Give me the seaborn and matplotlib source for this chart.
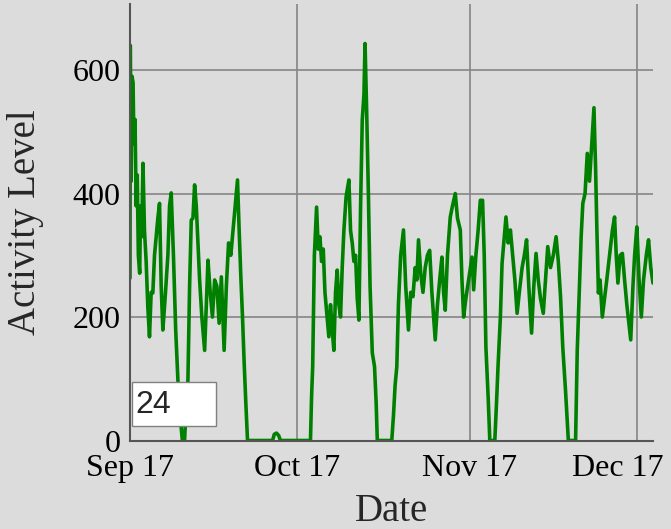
import pandas as pd
import matplotlib
matplotlib.use("Agg")
import matplotlib.pyplot as plt
import matplotlib.transforms as mtransforms
from matplotlib.patches import Rectangle
import seaborn as sns

# data (days since Sep 17, activity level, 24-pt rolling average)
start = "2010-09-17"
days = [0.0, 0.05, 0.2, 0.35, 0.55, 0.7, 0.9, 1.1, 1.3, 1.5, 1.74, 1.9, 2.1, 2.33, 2.6, 2.9,
        3.2, 3.5, 3.8, 4.1, 4.4, 4.7, 5.0, 5.3, 5.6, 5.9, 6.3, 6.8, 7.1, 7.4, 7.8, 8.2,
        8.6, 9.0, 9.4, 9.8, 10.1, 10.4, 10.7, 11.0, 11.3, 11.6, 11.9, 12.2, 12.5, 12.9,
        13.4, 13.7, 14.0, 14.4, 14.8, 15.2, 15.6, 16.0, 16.4, 16.9, 17.3, 17.7, 18.1,
        18.5, 18.9, 19.3, 19.6, 19.9, 20.2, 20.5, 20.8, 21.1, 25.6, 25.9, 26.3, 26.7,
        27.0, 32.4, 32.6, 32.8, 33.1, 33.5, 33.8, 34.1, 34.4, 34.7, 35.0, 35.4, 35.7,
        36.0, 36.3, 36.6, 36.9, 37.2, 37.5, 37.8, 38.1, 38.4, 38.8, 39.3, 39.6, 39.9,
        40.2, 40.5, 40.8, 41.1, 41.4, 41.7, 42.0, 42.2, 42.5, 42.8, 43.1, 43.5, 43.9,
        44.2, 44.4, 47.0, 47.3, 47.6, 47.9, 48.2, 48.6, 49.1, 49.5, 50.0, 50.4, 50.8,
        51.2, 51.5, 51.8, 52.2, 52.6, 53.0, 53.4, 53.8, 54.2, 54.8, 55.2, 55.6, 56.0,
        56.3, 56.6, 57.0, 57.5, 57.9, 58.4, 58.8, 59.3, 59.6, 59.9, 60.3, 60.8, 61.4,
        61.7, 62.1, 62.5, 62.9, 63.3, 63.6, 63.9, 64.3, 64.6, 65.5, 65.8, 66.1, 66.5,
        66.8, 67.2, 67.5, 67.9, 68.3, 68.7, 69.1, 69.5, 69.9, 70.4, 70.8, 71.2, 71.6,
        72.1, 72.5, 72.9, 73.3, 73.7, 74.2, 74.6, 75.0, 75.5, 76.0, 76.5, 76.9, 77.3,
        77.7, 78.2, 78.7, 80.0, 80.3, 80.7, 81.0, 81.3, 81.7, 82.1, 82.5, 82.9, 83.3,
        83.6, 83.8, 84.1, 84.4, 84.8, 85.2, 85.6, 86.1, 86.6, 87.0, 87.3, 87.6, 88.0,
        88.4, 88.8, 89.2, 89.9, 90.3, 90.6, 91.0, 91.4, 91.8, 92.2, 92.7, 93.1, 93.5,
        93.9]
activity = [263, 640, 420, 590, 580, 480, 520, 380, 430, 300, 271, 380, 330, 449, 340, 290,
            216, 168, 240, 239, 300, 330, 360, 384, 250, 179, 230, 300, 380, 401, 300, 180,
            98, 40, 0, 0, 60, 98, 250, 357, 360, 414, 380, 320, 260, 200,
            146, 220, 292, 240, 200, 260, 250, 190, 265, 146, 250, 320, 300,
            340, 380, 422, 340, 265, 200, 125, 60, 0, 0, 10, 12, 8,
            0, 0, 71, 120, 300, 378, 310, 330, 290, 310, 240, 200, 168,
            220, 180, 146, 240, 276, 220, 200, 280, 340, 395, 422, 340, 320,
            290, 300, 230, 195, 380, 519, 560, 643, 530, 400, 250, 142, 120,
            60, 0, 0, 40, 90, 119, 222, 300, 341, 250, 179, 240, 233,
            280, 260, 325, 270, 240, 280, 300, 308, 240, 163, 220, 260, 297,
            240, 211, 300, 362, 380, 400, 360, 341, 260, 200, 230, 260, 297,
            244, 300, 340, 389, 389, 300, 151, 71, 0, 0, 60, 125, 200,
            287, 330, 362, 320, 341, 300, 260, 206, 240, 280, 300, 325, 250,
            174, 250, 303, 260, 230, 206, 260, 314, 280, 300, 330, 290, 233,
            151, 80, 0, 0, 146, 250, 330, 384, 400, 465, 420, 480, 539,
            438, 351, 239, 260, 200, 230, 260, 300, 340, 362, 300, 255, 300,
            303, 260, 220, 163, 250, 300, 346, 260, 200, 260, 300, 325, 280,
            255]
tick_dates = ["2010-09-17", "2010-10-17", "2010-11-17", "2010-12-17"]
tick_labels = ["Sep 17", "Oct 17", "Nov 17", "Dec 17"]
y_ticks = [0, 200, 400, 600]
roll_period = "24"

df = pd.DataFrame({
    "Date": pd.to_datetime(start) + pd.to_timedelta(days, unit="D"),
    "Activity Level": activity,
})

bg = "#dcdcdc"
sns.set_style("white", {"axes.facecolor": bg, "figure.facecolor": bg})
plt.rcParams["font.family"] = ["Liberation Serif", "DejaVu Serif"]

fig = plt.figure(figsize=(6.71, 5.29), dpi=100)
ax = fig.add_axes([130 / 671, 1 - 440.5 / 529, 523 / 671, 436.5 / 529])

sns.lineplot(data=df, x="Date", y="Activity Level", color="green", lw=2.6,
             estimator=None, ax=ax)

ax.set_ylim(0, 707)
ax.set_xlim(pd.to_datetime(start), pd.to_datetime(start) + pd.Timedelta(days=93.9))

ax.set_yticks(y_ticks)
ax.set_yticklabels([str(v) for v in y_ticks])
ax.set_xticks(pd.to_datetime(tick_dates))
ax.set_xticklabels(tick_labels)
ax.tick_params(axis="both", length=0, labelsize=23, colors="black")
ax.tick_params(axis="y", pad=7)
ax.tick_params(axis="x", pad=10)

# last label is pushed left to stay inside the canvas
lab = ax.get_xticklabels()[-1]
lab.set_transform(lab.get_transform() + mtransforms.ScaledTranslation(-0.19, 0, fig.dpi_scale_trans))

ax.grid(True, color="#858585", lw=1.2)
for s in ["top", "right"]:
    ax.spines[s].set_visible(False)
for s in ["left", "bottom"]:
    ax.spines[s].set_color("#555555")
    ax.spines[s].set_linewidth(1.5)

ax.set_xlabel("Date", fontsize=28, labelpad=7)
ax.set_ylabel("Activity Level", fontsize=28, labelpad=20)

# roll period box
fig.patches.append(Rectangle((132 / 671, 1 - 426 / 529), 84 / 671, 44 / 529,
                             transform=fig.transFigure, facecolor="white",
                             edgecolor="#808080", lw=1, zorder=5))
fig.text(135 / 671, 1 - 405 / 529, roll_period, fontsize=23, va="center", ha="left",
         family=["Liberation Sans", "DejaVu Sans"], zorder=6)

fig.savefig("out.png", dpi=100, facecolor=bg)
